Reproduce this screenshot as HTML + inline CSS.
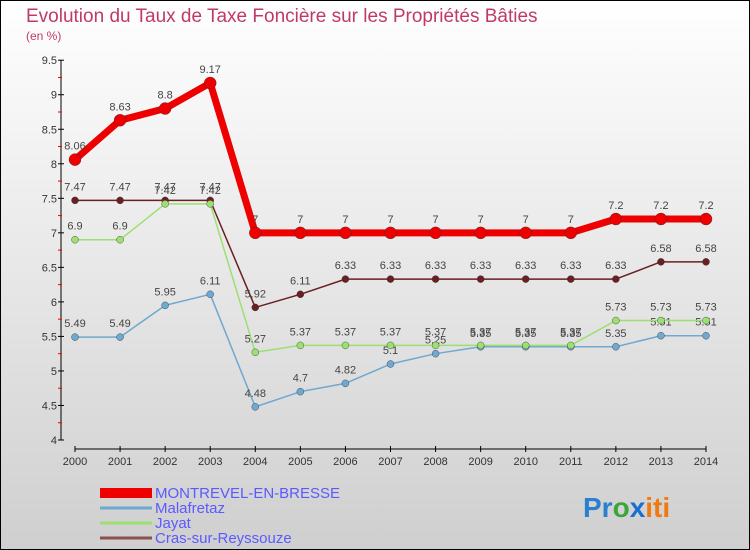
<!DOCTYPE html>
<html><head><meta charset="utf-8"><style>
body{margin:0}
svg{display:block;font-family:"Liberation Sans",sans-serif}
</style></head><body>
<svg id="c" width="750" height="550">
<defs><linearGradient id="bg" x1="0" y1="0" x2="0" y2="1"><stop offset="0" stop-color="#ffffff"/><stop offset="1" stop-color="#cfcfcf"/></linearGradient></defs>
<rect x="0.5" y="0.5" width="749" height="549" fill="url(#bg)" stroke="#000"/>
<text x="26" y="22" font-size="19" fill="#c0396a">Evolution du Taux de Taxe Foncière sur les Propriétés Bâties</text>
<text x="26" y="40" font-size="12" fill="#c0396a">(en %)</text>
<g id="axes"></g><g id="series"></g><g id="legend"></g>
<text x="583" y="517" font-size="28" font-weight="bold"><tspan fill="#2a7fd0">Pr</tspan><tspan fill="#3aa63a">o</tspan><tspan fill="#1a6fd0">x</tspan><tspan fill="#f07a10">iti</tspan></text>
</svg>
<script>
const years=[2000,2001,2002,2003,2004,2005,2006,2007,2008,2009,2010,2011,2012,2013,2014];
const yTicks=[4,4.5,5,5.5,6,6.5,7,7.5,8,8.5,9,9.5];
const names=["MONTREVEL-EN-BRESSE","Malafretaz","Jayat","Cras-sur-Reyssouze"];
const montrevel=[8.06,8.63,8.8,9.17,7,7,7,7,7,7,7,7,7.2,7.2,7.2];
const malafretaz=[5.49,5.49,5.95,6.11,4.48,4.7,4.82,5.1,5.25,5.35,5.35,5.35,5.35,5.51,5.51];
const jayat=[6.9,6.9,7.42,7.42,5.27,5.37,5.37,5.37,5.37,5.37,5.37,5.37,5.73,5.73,5.73];
const cras=[7.47,7.47,7.47,7.47,5.92,6.11,6.33,6.33,6.33,6.33,6.33,6.33,6.33,6.58,6.58];
const NS="http://www.w3.org/2000/svg";
const x=i=>75+i*(706-75)/(years.length-1);
const y=v=>440-(v-4)*(440-60.2)/5.5;
function mk(t,a,p){const e=document.createElementNS(NS,t);for(const k in a)e.setAttribute(k,a[k]);p.appendChild(e);return e;}
const ax=document.getElementById('axes');
let l=mk('line',{x1:61,y1:y(9.5),x2:61,y2:y(4),stroke:'#000'},ax);


yTicks.forEach((v,i)=>{
 mk('line',{x1:58,y1:y(v),x2:64,y2:y(v),stroke:'#000'},ax);
 if(i<yTicks.length-1)mk('line',{x1:58,y1:y(v+0.25),x2:62,y2:y(v+0.25),stroke:'#e00'},ax);
 const t=mk('text',{x:57,y:y(v)+4,'text-anchor':'end','font-size':11,fill:'#333'},ax);t.textContent=v;
 
 
});
l=mk('line',{x1:75,y1:449,x2:706,y2:449,stroke:'#000'},ax);


years.forEach((yr,i)=>{
 mk('line',{x1:x(i),y1:446,x2:x(i),y2:452,stroke:'#000'},ax);
 const t=mk('text',{x:x(i),y:465,'text-anchor':'middle','font-size':11,fill:'#333'},ax);t.textContent=yr;
 
 
});
const S=[
 {d:cras,c:'#6b1f22',w:1.5,r:3.5,n:'cras'},
 {d:malafretaz,c:'#6fa8d0',w:1.5,r:3.5,n:'malafretaz'},
 {d:jayat,c:'#9ce070',w:1.5,r:3.5,n:'jayat'},
 {d:montrevel,c:'#ee0000',w:7,r:6,n:'montrevel'}];
const sg=document.getElementById('series');
S.forEach(s=>{
 const g=mk('g',{},sg);
 
 
 mk('polyline',{points:s.d.map((v,i)=>x(i)+','+y(v)).join(' '),fill:'none',stroke:s.c,'stroke-width':s.w,'stroke-linejoin':'round'},g);
 s.d.forEach((v,i)=>{
  const c=mk('circle',{cx:x(i),cy:y(v),r:s.r,fill:s.c,stroke:'#333','stroke-width':0.4},g);
  
  
  const t=mk('text',{x:x(i),y:y(v)-10,'text-anchor':'middle','font-size':11,fill:'#444'},g);t.textContent=v;
  
  
 });
});
const lg=document.getElementById('legend');
const lc=['#ee0000','#6fa8d0','#9ce070','#8b5050'],lw=[10,3,3,3],ly=[492,507,522,537];
names.forEach((n,i)=>{
 const g=mk('g',{},lg);
 
 
 mk('line',{x1:100,y1:ly[i]+1,x2:152,y2:ly[i]+1,stroke:lc[i],'stroke-width':lw[i]},g);
 const t=mk('text',{x:155,y:ly[i]+6,'font-size':15,fill:'#5a5aff'},g);t.textContent=n;
});
</script>
</body></html>
